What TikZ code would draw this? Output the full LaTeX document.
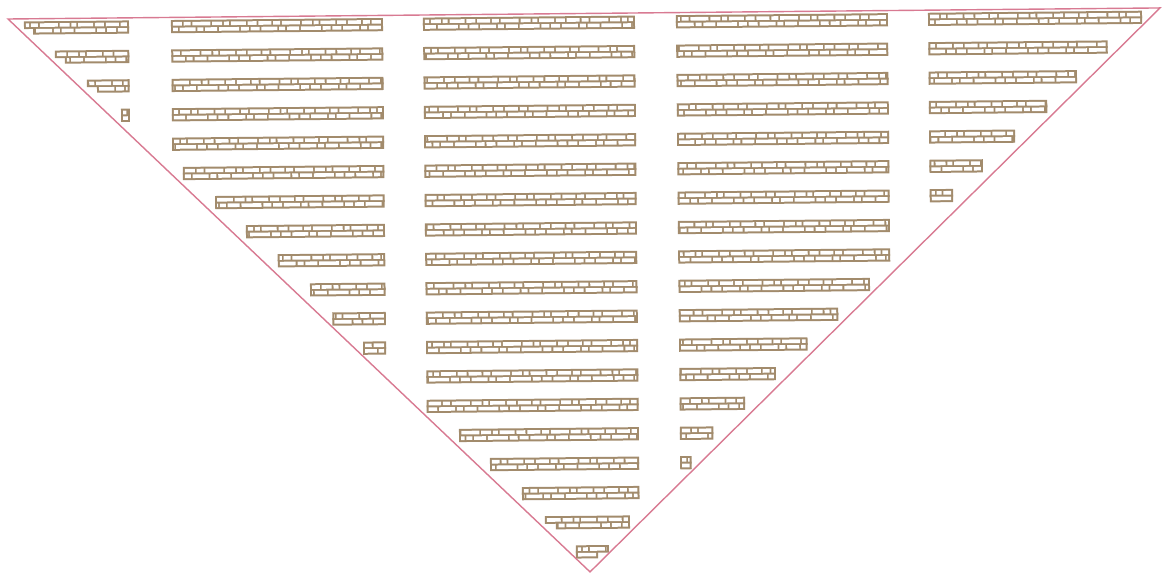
\documentclass[tikz,border=0pt]{standalone}
\definecolor{stripc}{HTML}{A28B6C}
\definecolor{edgec}{HTML}{D87A92}
\tikzset{
  cellrow/.style={white, line width=3.6pt, dash pattern=on 13pt off 1.8pt on 7pt off 1.8pt on 18pt off 1.8pt on 10pt off 1.8pt on 5pt off 1.8pt on 15pt off 1.8pt on 9pt off 1.8pt},
  cellrowb/.style={white, line width=3.6pt, dash pattern=on 9pt off 1.8pt on 16pt off 1.8pt on 6pt off 1.8pt on 12pt off 1.8pt on 20pt off 1.8pt on 8pt off 1.8pt},
  trioutline/.style={draw=edgec, line width=1.4pt, line join=miter}
}
% #1,#2 top row x-range, #3,#4 bottom row x-range, #5 row index
\newcommand\stripbar[5]{%
  \pgfmathsetmacro\ypos{22.7+29.4*#5}%
  \pgfmathsetmacro\ph{mod(#5*11+#1*0.37,60)}%
  \fill[stripc] (#1,\ypos-6.6) rectangle (#2,\ypos+1);
  \fill[stripc] (#3,\ypos-1) rectangle (#4,\ypos+6.6);
  \draw[cellrow, dash phase=\ph pt] (#1+2,\ypos-2.8) -- (#2-2,\ypos-2.8);
  \draw[cellrowb, dash phase=\ph pt] (#3+2,\ypos+2.8) -- (#4-2,\ypos+2.8);
}
\begin{document}
\begin{tikzpicture}[x=1pt,y=-1pt]
\useasboundingbox (0,0) rectangle (1163,575);
\begin{scope}[rotate around={0.55:(581,287)}]
  % column A
  \stripbar{26.5}{131.5}{35.5}{131.5}{0}
  \stripbar{57.2}{131.5}{67}{131.5}{1}
  \stripbar{88.9}{131.5}{98.9}{131.5}{2}
  \stripbar{122.7}{131.5}{122.7}{131.5}{3}
  % column B
  \foreach \k in {0,...,4} {\stripbar{173.5}{385.5}{173.5}{385.5}{\k}}
  \foreach \k/\l in {5/184,6/216,7/246.5,8/278,9/310,10/332,11/362.5}
    {\stripbar{\l}{385.5}{\l}{385.5}{\k}}
  % column C
  \foreach \k in {0,...,13} {\stripbar{425.5}{637.5}{425.5}{637.5}{\k}}
  \foreach \k/\l in {14/457.6,15/488.3,16/520}
    {\stripbar{\l}{637.5}{\l}{637.5}{\k}}
  \stripbar{542.7}{627.7}{553.5}{627.7}{17}
  \stripbar{573.4}{606.4}{573.4}{595.5}{18}
  % column D
  \foreach \k in {0,...,8} {\stripbar{678.5}{890.5}{678.5}{890.5}{\k}}
  \foreach \k/\r in {9/870,10/838,11/807,12/775,13/744,14/712,15/690}
    {\stripbar{678.5}{\r}{678.5}{\r}{\k}}
  % column E
  \foreach \k/\r in {0/1144.6,1/1110,2/1079,3/1049,4/1016.5,5/984,6/954}
    {\stripbar{930.6}{\r}{930.6}{\r}{\k}}
  % triangle
  \draw[trioutline] (10.6,13.5) -- (1162.7,13.5) -- (587.3,572) -- cycle;
\end{scope}
\end{tikzpicture}
\end{document}
